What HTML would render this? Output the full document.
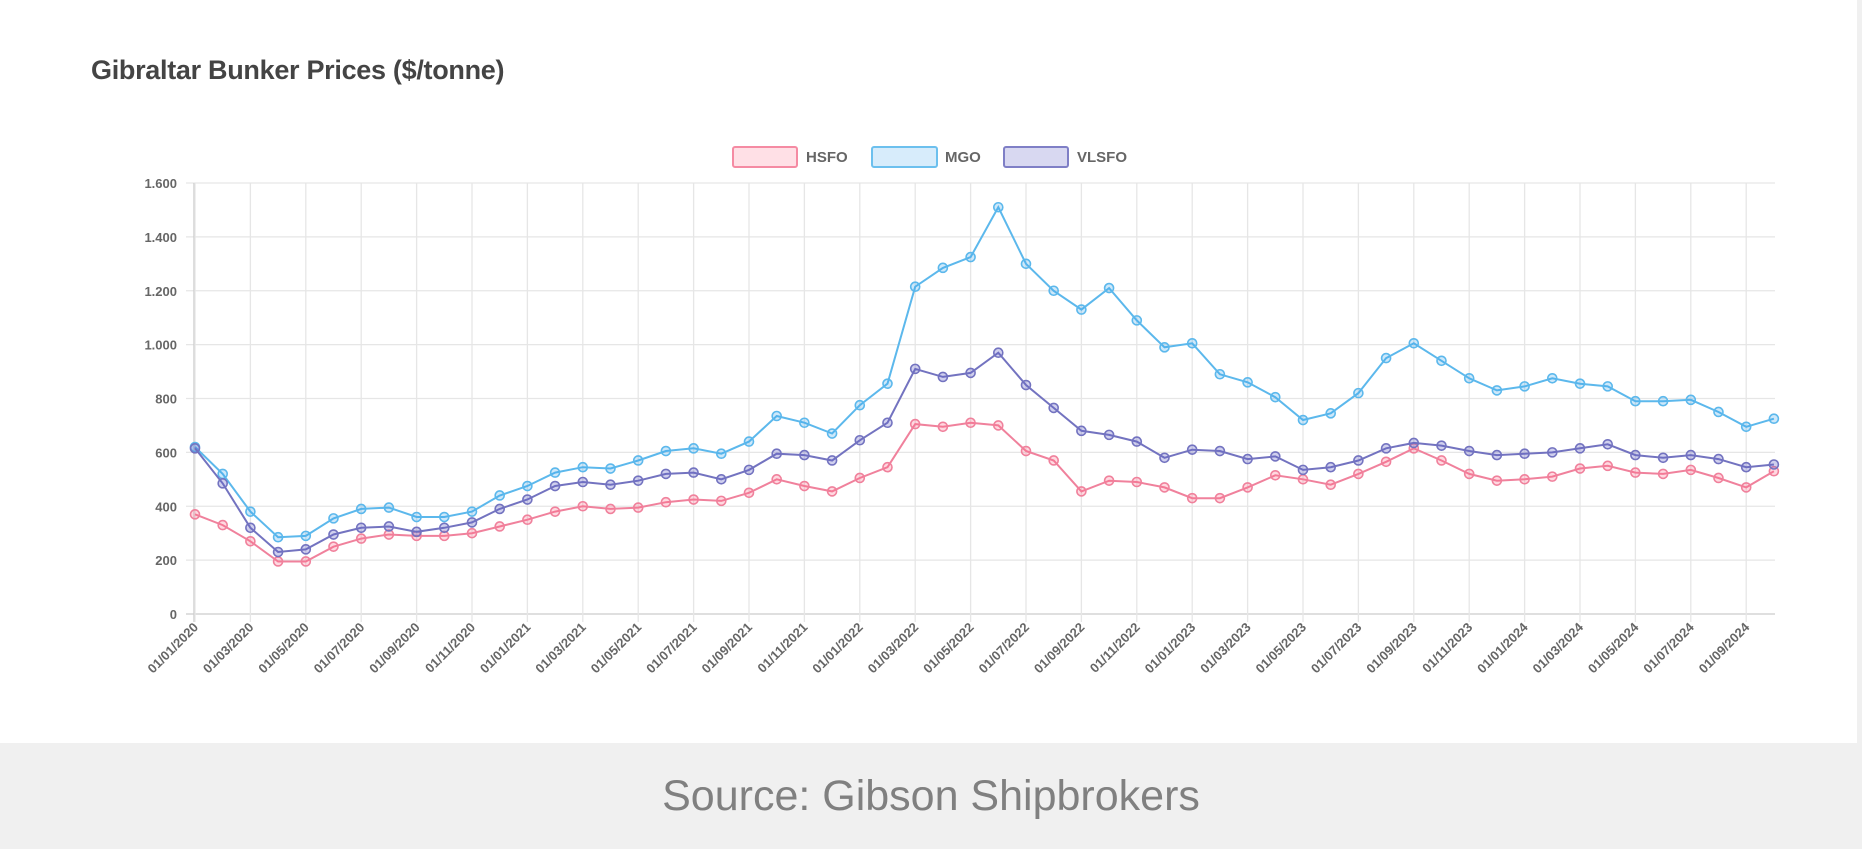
<!DOCTYPE html>
<html><head><meta charset="utf-8"><style>
html,body{margin:0;padding:0;width:1862px;height:839px;overflow:hidden;background:#f0f0f0;font-family:"Liberation Sans",sans-serif}
#panel{position:absolute;left:0;top:0;width:1857px;height:743px;background:#fff}
#src{position:absolute;left:0;top:743px;width:1862px;height:96px;text-align:center;line-height:106px;font-size:43px;color:#808080}
svg{position:absolute;left:0;top:0}
</style></head><body>
<div id="panel"></div>
<div id="src">Source: Gibson Shipbrokers</div>
<svg id="c" width="1862" height="743" xmlns="http://www.w3.org/2000/svg">
<text x="91" y="79" font-size="27" font-weight="bold" fill="#444" letter-spacing="-0.3">Gibraltar Bunker Prices ($/tonne)</text>
<rect x="733" y="147" width="64" height="20" fill="rgba(255,99,132,0.2)" stroke="#f58ba3" stroke-width="2" rx="2"/>
<text x="806" y="162" font-size="15" font-weight="bold" fill="#666">HSFO</text>
<rect x="872" y="147" width="65" height="20" fill="rgba(54,162,235,0.2)" stroke="#6cc0ee" stroke-width="2" rx="2"/>
<text x="945" y="162" font-size="15" font-weight="bold" fill="#666">MGO</text>
<rect x="1004" y="147" width="64" height="20" fill="rgba(100,100,200,0.25)" stroke="#7f7fc6" stroke-width="2" rx="2"/>
<text x="1077" y="162" font-size="15" font-weight="bold" fill="#666">VLSFO</text>
<g id="g"></g>
</svg>
<script>
var ns="http://www.w3.org/2000/svg",g=document.getElementById('g');
function el(t,a,txt){var e=document.createElementNS(ns,t);for(var k in a)e.setAttribute(k,a[k]);if(txt)e.textContent=txt;g.appendChild(e);return e;}
var L=194,R=1775,T=183,B=614,x0=195,dx=27.7;
function Y(v){return B-(v/1600)*(B-T);}
function X(i){return x0+i*dx;}
for(var v=0;v<=1600;v+=200){var y=Y(v);el('line',{x1:L-8,x2:R,y1:y,y2:y,stroke:v==0?'#ccc':'#e6e6e6','stroke-width':1.3});
el('text',{x:177,y:y+5,'font-size':13,'font-weight':'bold',fill:'#666','text-anchor':'end'},v==0?'0':(v>=1000?'1.'+String(v-1000).padStart(3,'0'):String(v)));}
el('line',{x1:L,x2:L,y1:T,y2:B+8,stroke:'#ccc','stroke-width':1.3});
for(var i=0;i<=56;i+=2){var x=X(i);el('line',{x1:x,x2:x,y1:T,y2:B+8,stroke:'#e6e6e6','stroke-width':1.3});
var yr=2020+Math.floor(i/12),m=(i%12)+1;var lab='01/'+(m<10?'0':'')+m+'/'+yr;
el('text',{x:x+4,y:B+14,'font-size':13,'font-weight':'bold',fill:'#666','text-anchor':'end',transform:'rotate(-45 '+(x+4)+' '+(B+14)+')'},lab);}
var H=[370,330,270,195,195,250,280,295,290,290,300,325,350,380,400,390,395,415,425,420,450,500,475,455,505,545,705,695,710,700,605,570,455,495,490,470,430,430,470,515,500,480,520,565,615,570,520,495,500,510,540,550,525,520,535,505,470,530];
var M=[620,520,380,285,290,355,390,395,360,360,380,440,475,525,545,540,570,605,615,595,640,735,710,670,775,855,1215,1285,1325,1510,1300,1200,1130,1210,1090,990,1005,890,860,805,720,745,820,950,1005,940,875,830,845,875,855,845,790,790,795,750,695,725];
var V=[615,485,320,230,240,295,320,325,305,320,340,390,425,475,490,480,495,520,525,500,535,595,590,570,645,710,910,880,895,970,850,765,680,665,640,580,610,605,575,585,535,545,570,615,635,625,605,590,595,600,615,630,590,580,590,575,545,555];
function series(d,c,f){var p=d.map(function(v,i){return X(i).toFixed(1)+','+Y(v).toFixed(1)}).join(' ');
el('polyline',{points:p,fill:'none',stroke:c,'stroke-width':2});
d.forEach(function(v,i){el('circle',{cx:X(i),cy:Y(v),r:4.5,fill:f,stroke:c,'stroke-width':1.6});});}
series(H,'#f0819c','rgba(255,99,132,0.25)');
series(M,'#5cb8ec','rgba(54,162,235,0.25)');
series(V,'#7373c0','rgba(100,100,200,0.3)');
</script>
</body></html>
